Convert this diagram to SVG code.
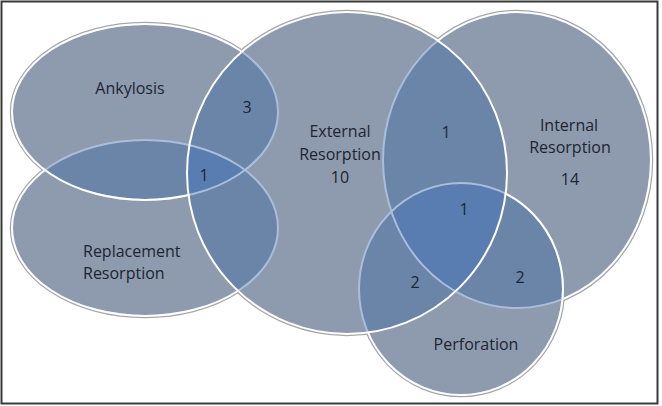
<svg xmlns="http://www.w3.org/2000/svg" width="662" height="406" viewBox="0 0 662 406">
<style>
.outline{fill:none;stroke:#a6a6a6;stroke-width:4.5}
.single{fill:#8e9aad}
.dbl{fill:#6b85a9}
.tri{fill:#5a7db1}
.inner{fill:none;stroke:#a9bedb;stroke-width:2}
.edge{fill:none;stroke:#ffffff;stroke-width:2}
text{font-family:"Open Sans","Liberation Sans",sans-serif;font-size:16px;fill:#1d2533}
.c{text-anchor:middle}
</style>
<defs>
<ellipse id="eInt" cx="517" cy="160" rx="134" ry="148"/>
<ellipse id="ePer" cx="461" cy="289" rx="102" ry="106"/>
<ellipse id="eRep" cx="145" cy="228" rx="133" ry="88"/>
<ellipse id="eAnk" cx="145" cy="112" rx="133" ry="88"/>
<ellipse id="eExt" cx="347" cy="173" rx="160" ry="161"/>
<clipPath id="cInt"><use href="#eInt"/></clipPath>
<clipPath id="cPer"><use href="#ePer"/></clipPath>
<clipPath id="cRep"><use href="#eRep"/></clipPath>
<clipPath id="cAnk"><use href="#eAnk"/></clipPath>
<clipPath id="cExt"><use href="#eExt"/></clipPath>
<mask id="mInt" maskUnits="userSpaceOnUse" x="0" y="0" width="662" height="406"><rect width="662" height="406" fill="#fff"/><use href="#ePer" fill="#000"/><use href="#eExt" fill="#000"/></mask>
<mask id="mPer" maskUnits="userSpaceOnUse" x="0" y="0" width="662" height="406"><rect width="662" height="406" fill="#fff"/><use href="#eExt" fill="#000"/></mask>
<mask id="mRep" maskUnits="userSpaceOnUse" x="0" y="0" width="662" height="406"><rect width="662" height="406" fill="#fff"/><use href="#eAnk" fill="#000"/><use href="#eExt" fill="#000"/></mask>
<mask id="mAnk" maskUnits="userSpaceOnUse" x="0" y="0" width="662" height="406"><rect width="662" height="406" fill="#fff"/><use href="#eExt" fill="#000"/></mask>
</defs>
<rect x="0" y="0" width="662" height="406" fill="#ffffff"/>
<rect x="1.5" y="1.5" width="656" height="402" fill="none" stroke="#3a3a3a" stroke-width="2"/>
<g id="outlines">
<use href="#eInt" class="outline"/>
<use href="#ePer" class="outline"/>
<use href="#eRep" class="outline"/>
<use href="#eAnk" class="outline"/>
<use href="#eExt" class="outline"/>
</g>
<g id="fills">
<use id="internal-resorption" href="#eInt" class="single"/>
<use id="perforation" href="#ePer" class="single"/>
<use id="replacement-resorption" href="#eRep" class="single"/>
<use id="ankylosis" href="#eAnk" class="single"/>
<use id="external-resorption" href="#eExt" class="single"/>
</g>
<g id="overlaps">
<use href="#eAnk" class="dbl" clip-path="url(#cRep)"/>
<use href="#eAnk" class="dbl" clip-path="url(#cExt)"/>
<use href="#eRep" class="dbl" clip-path="url(#cExt)"/>
<use href="#eExt" class="dbl" clip-path="url(#cInt)"/>
<use href="#eExt" class="dbl" clip-path="url(#cPer)"/>
<use href="#eInt" class="dbl" clip-path="url(#cPer)"/>
<g clip-path="url(#cRep)"><use href="#eAnk" class="tri" clip-path="url(#cExt)"/></g>
<g clip-path="url(#cInt)"><use href="#eExt" class="tri" clip-path="url(#cPer)"/></g>
</g>
<g id="edges">
<use href="#eInt" class="inner"/>
<use href="#eInt" class="edge" mask="url(#mInt)"/>
<use href="#ePer" class="inner"/>
<use href="#ePer" class="edge" mask="url(#mPer)"/>
<use href="#eRep" class="inner"/>
<use href="#eRep" class="edge" mask="url(#mRep)"/>
<use href="#eAnk" class="inner"/>
<use href="#eAnk" class="edge" mask="url(#mAnk)"/>
<use href="#eExt" class="edge"/>
</g>
<g id="labels">
<g id="label-ankylosis"><text class="c" x="130" y="94">Ankylosis</text></g>
<g id="label-replacement"><text x="83" y="257">Replacement</text><text x="83" y="279">Resorption</text></g>
<g id="label-external"><text class="c" x="340" y="137">External</text><text class="c" x="340" y="160">Resorption</text><text class="c" x="340" y="183">10</text></g>
<g id="label-internal"><text class="c" x="569" y="131">Internal</text><text class="c" x="570" y="153">Resorption</text><text class="c" x="570" y="185">14</text></g>
<g id="label-perforation"><text class="c" x="476" y="350">Perforation</text></g>
<g id="counts">
<text class="c" x="247" y="113">3</text>
<text class="c" x="204" y="181">1</text>
<text class="c" x="446" y="138">1</text>
<text class="c" x="464" y="215">1</text>
<text class="c" x="415" y="288">2</text>
<text class="c" x="520" y="283">2</text>
</g>
</g>
</svg>
